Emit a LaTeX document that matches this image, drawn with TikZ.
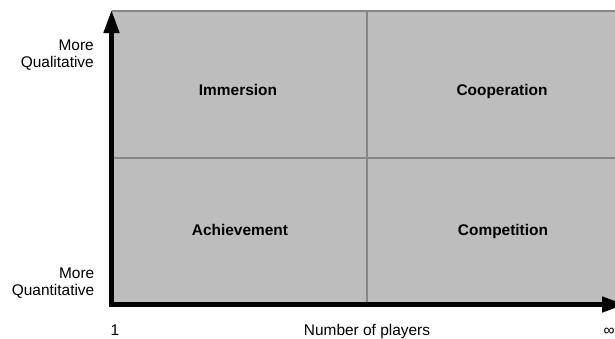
\documentclass[tikz,border=0pt]{standalone}
\usepackage{fontspec}
\setmainfont{Liberation Sans}
\usetikzlibrary{arrows.meta}
\definecolor{quadfill}{HTML}{BDBDBD}
\definecolor{quadline}{HTML}{868686}
\begin{document}
\begin{tikzpicture}[x=1bp,y=-1bp,line join=miter,>={Triangle[length=23bp,width=15bp]}]
				\tikzset{every node/.style={inner sep=0pt,font=\fontsize{15.5}{17}\selectfont},
					quad/.style={font=\fontsize{15.5}{17}\selectfont\bfseries,anchor=base},
					side/.style={align=right,anchor=base east}}
				\useasboundingbox (0,0) rectangle (615,338);
				\begin{scope}
					\fill[quadfill] (111.5,11) rectangle (640,304.5);
					\draw[quadline,line width=2bp] (111.5,11)--(640,11) (367,11)--(367,304.5) (111.5,158)--(640,158);
					\foreach \x/\y/\name/\txt in {238/95/immersion/Immersion,502/95/cooperation/Cooperation,240/235/achievement/Achievement,503/235/competition/Competition}
					\node[quad] (\name) at (\x,\y) {\txt};
				\end{scope}
				\coordinate (O) at (111.5,304.5);
				\coordinate (ytop) at (111.5,10);
				\coordinate (xend) at (625,304.5);
				\draw[<->,line width=4.5bp] (ytop)--(O)--(xend);
				\node[side] (qual) at (94,67) {More\\Qualitative};
				\node[side] (quant) at (94.5,295) {More\\Quantitative};
				\foreach \x/\name/\txt in {115/one/1,367/players/Number of players,609/inf/∞}
				\node[anchor=base] (\name) at (\x,335) {\txt};
			\end{tikzpicture}
\end{document}
